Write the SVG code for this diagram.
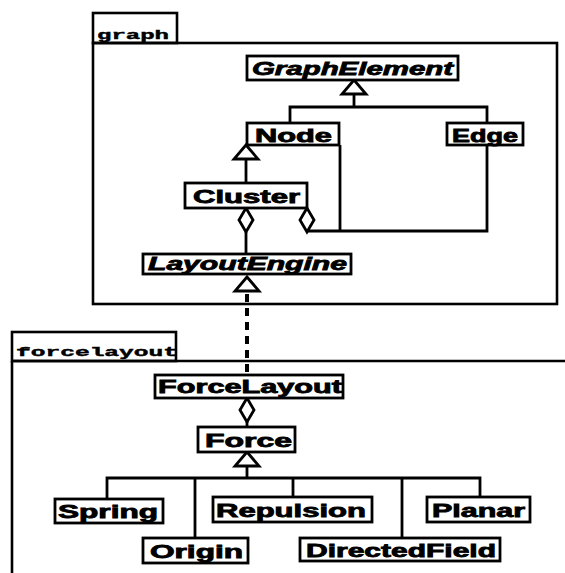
<svg xmlns="http://www.w3.org/2000/svg" xmlns:xlink="http://www.w3.org/1999/xlink" width="565" height="573" viewBox="0 0 565 573">
<style>
  .pkg { fill: none; stroke: #000; stroke-width: 2.6; }
  .box { fill: #fff; stroke: #000; stroke-width: 2.8; }
  .lbl { font-family: "Liberation Sans", Arial, sans-serif; font-weight: bold; font-size: 18px; fill: #000; stroke: #000; stroke-width: 0.8; }
  .abs { font-style: italic; }
  .pk { font-family: "Liberation Mono", "Courier New", monospace; font-weight: bold; font-size: 12px; fill: #000; stroke: #000; stroke-width: 0.4; }
  .ln { fill: none; stroke: #000; stroke-width: 2.8; }
  .dash { fill: none; stroke: #000; stroke-width: 4; stroke-dasharray: 8 6; }
  .head { fill: #fff; stroke: #000; stroke-width: 2.8; stroke-linejoin: miter; }
</style>
<defs>
  <polygon id="tri" points="0,0 -12,14 12,14"/>
  <polygon id="dia" points="0,0 -7,12 0,24 7,12"/>
</defs>
<rect width="565" height="573" fill="#fff"/>

<g id="pkg-graph">
  <rect class="pkg" x="93" y="13" width="84" height="30"/>
  <rect class="pkg" x="93" y="43" width="464" height="261"/>
  <text class="pk" x="97" y="39" textLength="72" lengthAdjust="spacingAndGlyphs">graph</text>
</g>

<g id="pkg-forcelayout">
  <rect class="pkg" x="12" y="332" width="164" height="29"/>
  <path class="pkg" d="M12 361 H566 M12 361 V574"/>
  <text class="pk" x="16" y="356" textLength="162" lengthAdjust="spacingAndGlyphs">forcelayout</text>
</g>

<g id="connectors">
  <!-- generalization to GraphElement -->
  <path class="ln" d="M354 92 V107 M290 123 V107 H487 V123"/>
  <use href="#tri" x="354" y="80" class="head"/>
  <!-- Node <- Cluster -->
  <path class="ln" d="M246 159 V183"/>
  <use href="#tri" x="246" y="145" class="head"/>
  <!-- Cluster aggregation to LayoutEngine -->
  <path class="ln" d="M246 232 V254"/>
  <use href="#dia" x="246" y="208" class="head"/>
  <!-- Cluster aggregation to Node and Edge -->
  <path class="ln" d="M307 231 H487 V145 M340 145 V231"/>
  <use href="#dia" x="307" y="208" class="head"/>
  <!-- realization ForceLayout -> LayoutEngine -->
  <path class="dash" d="M247 294 V375"/>
  <use href="#tri" x="247" y="277" class="head"/>
  <!-- ForceLayout aggregation Force -->
  <path class="ln" d="M247 421 V427"/>
  <use href="#dia" x="247" y="398" class="head"/>
  <!-- Force generalization -->
  <path class="ln" d="M247 466 V478 M107 499 V478 H480 V497 M195 478 V538 M293 478 V497 M402 478 V538"/>
  <use href="#tri" x="247" y="452" class="head"/>
</g>

<g id="GraphElement">
  <rect class="box" x="247" y="56" width="211" height="24"/>
  <text class="lbl abs" x="252" y="75" textLength="201" lengthAdjust="spacingAndGlyphs">GraphElement</text>
</g>
<g id="Node">
  <rect class="box" x="247" y="123" width="92" height="22"/>
  <text class="lbl" x="255" y="142" textLength="77" lengthAdjust="spacingAndGlyphs">Node</text>
</g>
<g id="Edge">
  <rect class="box" x="447" y="123" width="76" height="22"/>
  <text class="lbl" x="452" y="142" textLength="66" lengthAdjust="spacingAndGlyphs">Edge</text>
</g>
<g id="Cluster">
  <rect class="box" x="185" y="183" width="122" height="25"/>
  <text class="lbl" x="193" y="203" textLength="107" lengthAdjust="spacingAndGlyphs">Cluster</text>
</g>
<g id="LayoutEngine">
  <rect class="box" x="143" y="254" width="208" height="20"/>
  <text class="lbl abs" x="148" y="270" textLength="199" lengthAdjust="spacingAndGlyphs">LayoutEngine</text>
</g>
<g id="ForceLayout">
  <rect class="box" x="155" y="375" width="188" height="23"/>
  <text class="lbl" x="158" y="393" textLength="184" lengthAdjust="spacingAndGlyphs">ForceLayout</text>
</g>
<g id="Force">
  <rect class="box" x="198" y="427" width="97" height="25"/>
  <text class="lbl" x="205" y="447" textLength="87" lengthAdjust="spacingAndGlyphs">Force</text>
</g>
<g id="Spring">
  <rect class="box" x="55" y="499" width="108" height="24"/>
  <text class="lbl" x="58" y="518" textLength="100" lengthAdjust="spacingAndGlyphs">Spring</text>
</g>
<g id="Repulsion">
  <rect class="box" x="213" y="497" width="159" height="25"/>
  <text class="lbl" x="216" y="517" textLength="150" lengthAdjust="spacingAndGlyphs">Repulsion</text>
</g>
<g id="Planar">
  <rect class="box" x="427" y="497" width="103" height="25"/>
  <text class="lbl" x="432" y="517" textLength="93" lengthAdjust="spacingAndGlyphs">Planar</text>
</g>
<g id="Origin">
  <rect class="box" x="143" y="538" width="105" height="25"/>
  <text class="lbl" x="150" y="558" textLength="93" lengthAdjust="spacingAndGlyphs">Origin</text>
</g>
<g id="DirectedField">
  <rect class="box" x="300" y="538" width="200" height="23"/>
  <text class="lbl" x="306" y="557" textLength="190" lengthAdjust="spacingAndGlyphs">DirectedField</text>
</g>
</svg>
